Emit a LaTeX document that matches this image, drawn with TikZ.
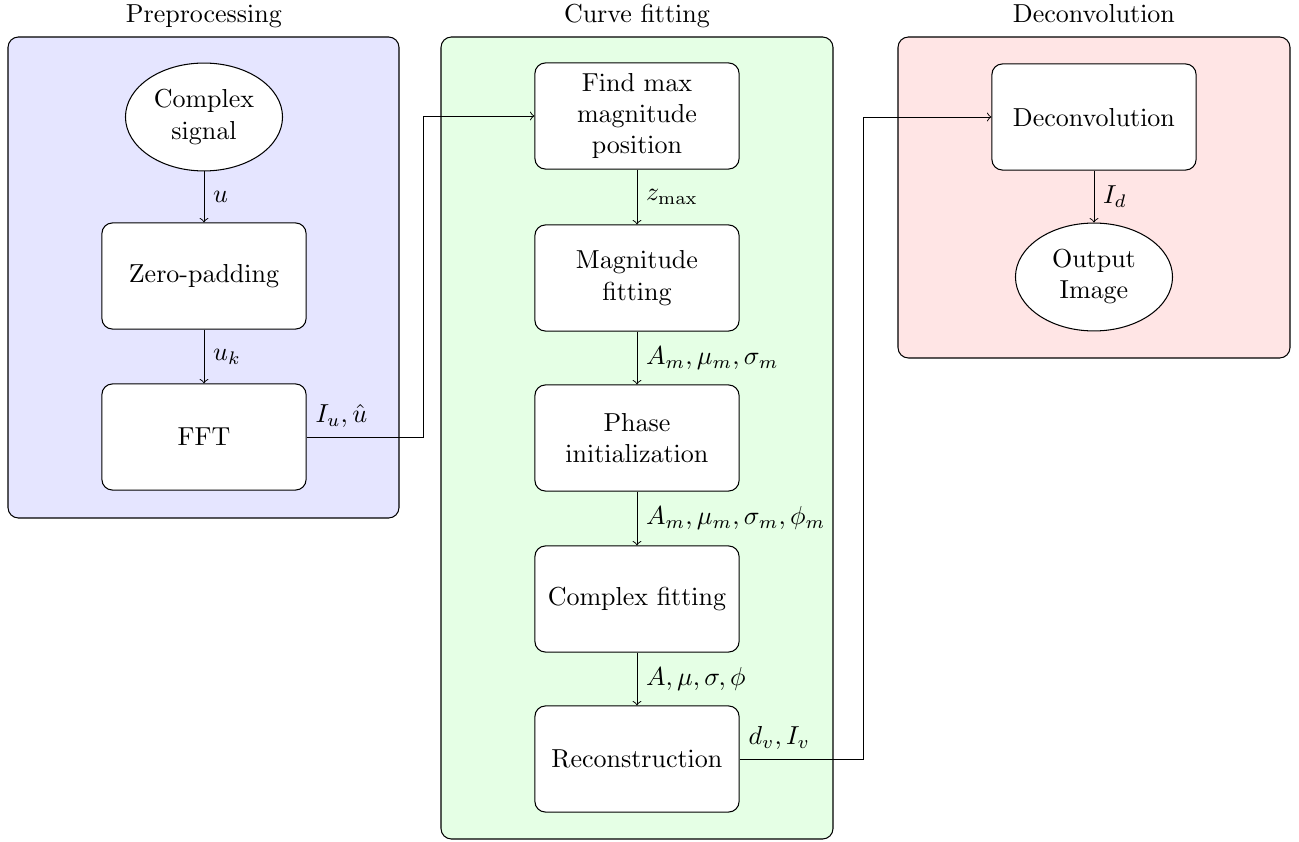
\documentclass[tikz,border=0pt]{standalone}
\usepackage[OT1]{fontenc}
\usetikzlibrary{shapes.geometric,calc}
\begin{document}
\begin{tikzpicture}[x=0.3846pt,y=-0.3846pt,
  frame/.style={draw, rounded corners=4pt, line width=0.4pt},
  stepbox/.style={draw, rounded corners=4pt, fill=white, align=center, minimum width=78.5pt, minimum height=40.8pt, inner sep=0pt},
  ell/.style={draw, ellipse, fill=white, align=center, minimum width=60.4pt, minimum height=41.5pt, inner sep=0pt},
  title/.style={anchor=base},
  flow/.style={->, line width=0.35pt},
  lab/.style={right, midway}
]
\useasboundingbox (0,0) rectangle (1299,842);
% frames
\filldraw[frame, fill=blue!10] (8,37) rectangle (399,518);
\filldraw[frame, fill=green!10] (441,37) rectangle (833,839);
\filldraw[frame, fill=red!10] (898,37) rectangle (1290,358);
\node[title] (t1) at (204,23) {Preprocessing};
\node[title] (t2) at (637,23) {Curve fitting};
\node[title] (t3) at (1094,23) {Deconvolution};
% preprocessing
\node[ell] (cs) at (204,117) {Complex\\signal};
\node[stepbox] (zp) at (204,276) {Zero-padding};
\node[stepbox] (fft) at (204,437) {FFT};
% curve fitting
\node[stepbox] (fm) at (637,116) {Find max\\magnitude\\position};
\node[stepbox] (mf) at (637,278) {Magnitude\\fitting};
\node[stepbox] (pi) at (637,438) {Phase\\initialization};
\node[stepbox] (cf) at (637,599) {Complex fitting};
\node[stepbox] (rc) at (637,759) {Reconstruction};
% deconvolution
\node[stepbox] (dc) at (1094,117) {Deconvolution};
\node[ell] (oi) at (1094,277) {Output\\Image};
% junctions
\coordinate (j1) at (423,437);
\coordinate (j2) at (863,759);
% connectors
\draw[flow] (cs) -- (zp) node[lab] {$u$};
\draw[flow] (zp) -- (fft) node[lab] {$u_k$};
\draw[flow] (fft.east) -- (fft.east -| j1) node[pos=0, anchor=south west] {$I_u,\hat{u}$} |- (fm.west);
\draw[flow] (fm) -- (mf) node[lab] {$z_{\max}$};
\draw[flow] (mf) -- (pi) node[lab] {$A_m,\mu_m,\sigma_m$};
\draw[flow] (pi) -- (cf) node[lab] {$A_m,\mu_m,\sigma_m,\phi_m$};
\draw[flow] (cf) -- (rc) node[lab] {$A,\mu,\sigma,\phi$};
\draw[flow] (rc.east) -- (rc.east -| j2) node[pos=0, anchor=south west] {$d_v,I_v$} |- (dc.west);
\draw[flow] (dc) -- (oi) node[lab] {$I_d$};
\end{tikzpicture}
\end{document}
